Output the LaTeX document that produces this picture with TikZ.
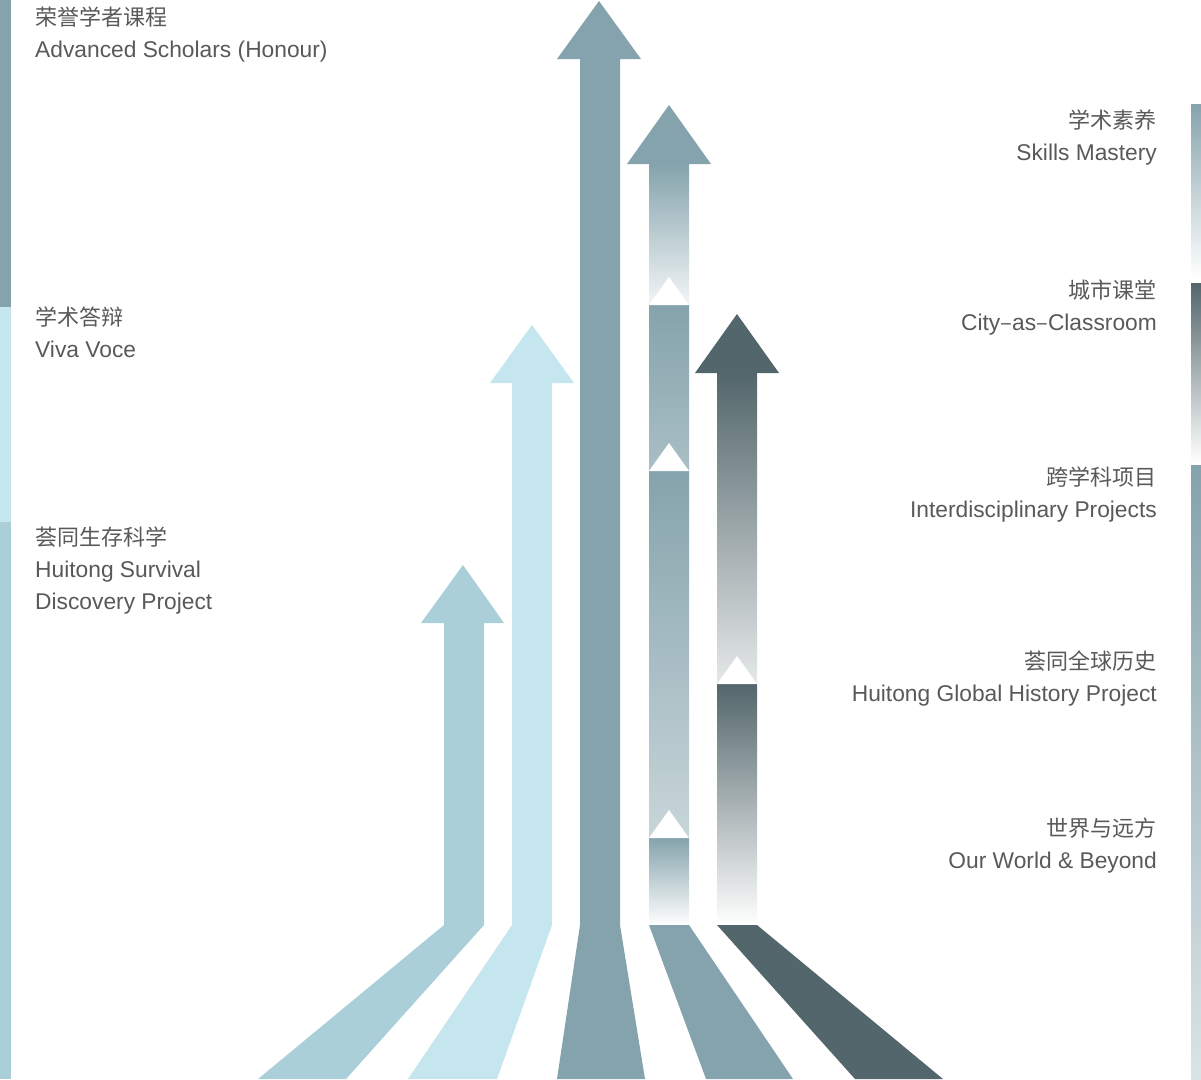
\documentclass[tikz,border=0pt]{standalone}
\usepackage{fontspec}
\setmainfont{Liberation Sans}[Scale=1.035]
\newfontfamily\cjk{Noto Sans CJK SC}
\definecolor{cTeal}{HTML}{85A3AC}
\definecolor{cSky}{HTML}{C5E5EF}
\definecolor{cAqua}{HTML}{AACFD8}
\definecolor{cSlate}{HTML}{53666B}
\definecolor{cText}{HTML}{595959}
\tikzset{
  lbl/.style={font=\fontsize{22}{32}\selectfont, text=cText, inner sep=0pt},
  lblL/.style={lbl, align=left, anchor=base west},
  lblR/.style={lbl, align=right, anchor=base east}
}
\begin{document}
\begin{tikzpicture}[x=1pt,y=-1pt]
        \useasboundingbox (0,0) rectangle (1201,1079);
        %Barres gauche
        \fill [cTeal] (0,0) rectangle (11,307);
        \fill [cSky] (0,307) rectangle (11,522);
        \fill [cAqua] (0,522) rectangle (11,1079);
        %Barres droite
        \shade [top color=cTeal, bottom color=white] (1191,104) rectangle (1201,278);
        \shade [top color=cSlate, bottom color=white] (1191,283) rectangle (1201,463);
        \shade [top color=cTeal, middle color=cTeal!80, bottom color=cTeal!30] (1191,465) rectangle (1201,1079);
        %Fleches pleines
        \fill [cAqua] (421,623) -- (463,565) -- (504,623) -- (484,623) -- (484,925) -- (346,1079) -- (258,1079) -- (444,925) -- (444,623) -- cycle;
        \fill [cSky] (490,383) -- (532,325) -- (574,383) -- (552,383) -- (552,925) -- (497,1079) -- (408,1079) -- (512,925) -- (512,383) -- cycle;
        \fill [cTeal] (557,59) -- (599,1) -- (641,59) -- (620,59) -- (620,925) -- (645,1079) -- (557,1079) -- (580,925) -- (580,59) -- cycle;
        %Fleche 4
        \fill [cTeal] (627,164) -- (669,105) -- (711,164) -- cycle;
        \shade [top color=cTeal, bottom color=cTeal!10] (649,164) rectangle (689,305);
        \shade [top color=cTeal, bottom color=cTeal!70] (649,305) rectangle (689,471);
        \shade [top color=cTeal, bottom color=cTeal!45] (649,471) rectangle (689,838);
        \shade [top color=cTeal, bottom color=white] (649,838) rectangle (689,925);
        \fill [white] (649,305) -- (669,277) -- (689,305) -- cycle;
        \fill [white] (649,471) -- (669,443) -- (689,471) -- cycle;
        \fill [white] (649,838) -- (669,810) -- (689,838) -- cycle;
        \fill [cTeal] (649,925) -- (689,925) -- (793,1079) -- (706,1079) -- cycle;
        %Fleche 5
        \fill [cSlate] (695,373) -- (737,314) -- (779,373) -- cycle;
        \shade [top color=cSlate, bottom color=cSlate!15] (717,373) rectangle (757,684);
        \shade [top color=cSlate, bottom color=white] (717,684) rectangle (757,925);
        \fill [white] (717,684) -- (737,656) -- (757,684) -- cycle;
        \fill [cSlate] (717,925) -- (757,925) -- (943,1079) -- (855,1079) -- cycle;
        %Textes gauche
        \node [lblL] (honour) at (35,57) {{\cjk 荣誉学者课程}\\Advanced Scholars (Honour)};
        \node [lblL] (viva) at (35,357) {{\cjk 学术答辩}\\Viva Voce};
        \node [lblL] (survival) at (35,609) {{\cjk 荟同生存科学}\\Huitong Survival\\Discovery Project};
        %Textes droite
        \node [lblR] (skills) at (1157,160) {{\cjk 学术素养}\\Skills Mastery};
        \node [lblR] (city) at (1157,330) {{\cjk 城市课堂}\\City{\cjk –}as{\cjk –}Classroom};
        \node [lblR] (interdis) at (1157,517) {{\cjk 跨学科项目}\\Interdisciplinary Projects};
        \node [lblR] (history) at (1157,701) {{\cjk 荟同全球历史}\\Huitong Global History Project};
        \node [lblR] (world) at (1157,868) {{\cjk 世界与远方}\\Our World \& Beyond};
\end{tikzpicture}
\end{document}
